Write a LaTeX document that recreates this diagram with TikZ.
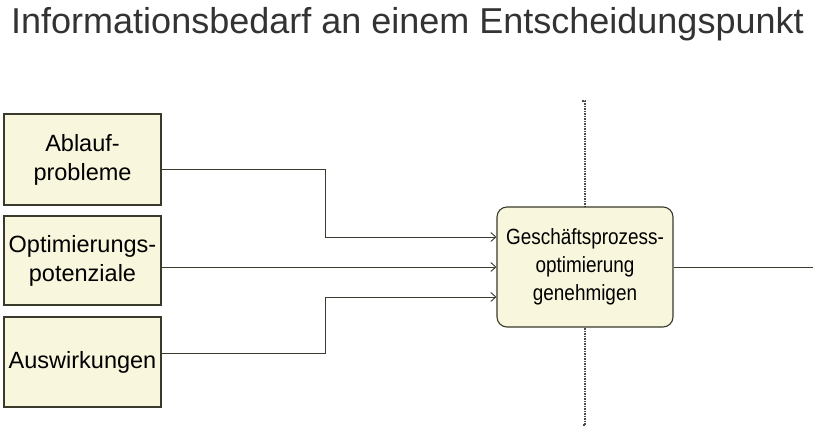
\documentclass[tikz,border=0pt]{standalone}
\usepackage{fontspec}
\setmainfont{Liberation Sans}
\newfontfamily\narrowfont[FakeStretch=0.86]{Liberation Sans}
\usetikzlibrary{arrows.meta}
\definecolor{boxfill}{HTML}{F8F6DC}
\definecolor{boxline}{HTML}{3A3A2A}
\definecolor{conncol}{HTML}{3A3A30}
\definecolor{titlecol}{HTML}{333333}
\tikzset{
  inbox/.style={draw=boxline, fill=boxfill, line width=1.1pt, minimum width=157pt, inner sep=0pt, align=center, font=\fontsize{23.5}{29}\selectfont},
  mainbox/.style={draw=boxline, fill=boxfill, line width=1.1pt, rounded corners=10pt, minimum width=176pt, minimum height=120pt, inner sep=0pt, align=center, font=\narrowfont\fontsize{22}{28}\selectfont},
  conn/.style={draw=conncol, line width=0.9pt},
  arr/.style={conn, -{Straight Barb[length=5pt,width=9pt,line width=0.9pt]}},
  divider/.style={draw=gray!60!black, line width=1.1pt, dash pattern=on 1.5pt off 1pt}
}
\begin{document}
\begin{tikzpicture}[x=1pt,y=-1pt]
\useasboundingbox (0,0) rectangle (829,437);
\node[anchor=base west, text=titlecol, font=\fontsize{36}{40}\selectfont, inner sep=0pt] (title) at (11,33) {Informationsbedarf an einem Entscheidungspunkt};
\coordinate (dtop) at (585,101);
\coordinate (dbot) at (585,425);
\draw[divider] ([xshift=-3pt]dtop) -- (dtop) -- (dbot) -- ([xshift=-3pt]dbot);
\node[inbox, minimum height=91pt] (b1) at (82.5,159.5) {Ablauf-\\probleme};
\node[inbox, minimum height=89pt] (b2) at (82.5,260.5) {Optimierungs-\\potenziale};
\node[inbox, minimum height=90pt] (b3) at (82.5,362) {Auswirkungen};
\node[mainbox] (main) at (585,267) {Geschäftsprozess-\\optimierung\\genehmigen};
\coordinate (out) at (813,267);
\draw[arr] ([yshift=-9.5pt]b1.east) -| (325,237) -- (main.west |- 0,237);
\draw[arr] (b2.east |- main.west) -- (main.west);
\draw[arr] ([yshift=9pt]b3.east) -| (325,297) -- (main.west |- 0,297);
\draw[conn] (main.east) -- (out);
\end{tikzpicture}
\end{document}
